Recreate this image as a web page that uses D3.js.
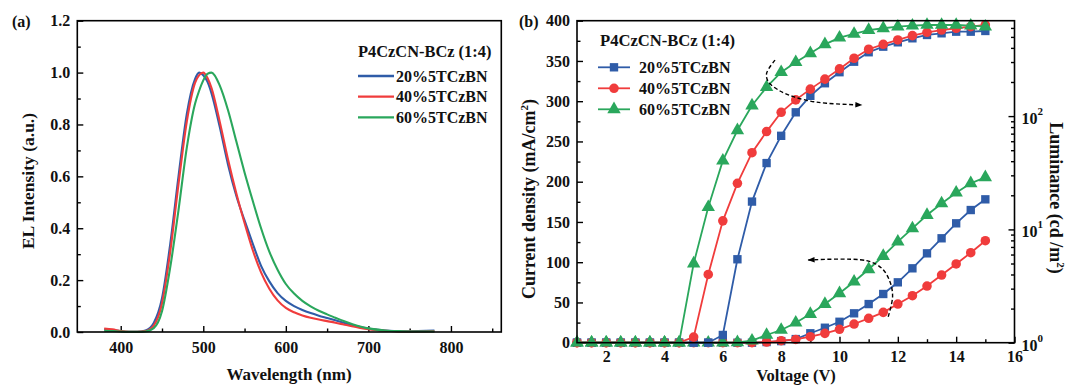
<!DOCTYPE html>
<html><head><meta charset="utf-8">
<script src="https://cdn.jsdelivr.net/npm/d3@7"></script>
<style>
body{margin:0;background:#fff}
svg{display:block}
text{font-family:"Liberation Serif","Times New Roman",serif;font-weight:bold;fill:#111}
</style>
</head><body>
<svg id="c" width="1072" height="385"></svg>
<script>
// ---------- Panel (a) data: EL spectra ----------
const wavelength = [380,390,400,410,420,430,440,450,460,470,480,490,495,500,505,510,520,530,540,550,560,570,580,590,600,610,620,630,640,650,660,670,680,690,700,720,740,760,780];
const el20 = [.010,.007,.003,.001,.001,.006,.035,.13,.34,.60,.84,.975,1.0,.99,.965,.92,.79,.645,.525,.43,.34,.255,.195,.15,.12,.10,.085,.073,.063,.054,.045,.036,.027,.019,.013,.006,.003,.004,.006];
const el40 = [.013,.010,.004,.001,.001,.004,.025,.11,.31,.57,.81,.96,.99,1.0,.98,.94,.81,.665,.535,.42,.315,.23,.167,.122,.093,.076,.064,.055,.048,.042,.036,.029,.022,.016,.011,.005,.002,.002,.003];
const el60 = [.005,.004,.002,.001,.001,.002,.015,.08,.25,.47,.71,.88,.93,.97,.995,1.0,.95,.855,.735,.615,.505,.40,.31,.24,.185,.148,.12,.099,.082,.068,.055,.042,.031,.021,.014,.006,.003,.002,.002];
const seriesNames = ["20%5TCzBN","40%5TCzBN","60%5TCzBN"];
const legendTitle = "P4CzCN-BCz (1:4)";
const xTicksA = [400,500,600,700,800];
const xMinorA = [450,550,650,750,850];
const yTicksA = [0,0.2,0.4,0.6,0.8,1.0,1.2];
const yMinorA = [0.1,0.3,0.5,0.7,0.9,1.1];

// ---------- Panel (b) data: J-V-L ----------
const voltage = [1,1.5,2,2.5,3,3.5,4,4.5,5,5.5,6,6.5,7,7.5,8,8.5,9,9.5,10,10.5,11,11.5,12,12.5,13,13.5,14,14.5,15];
const lum20 = [1,1,1,1,1,1,1,1,1,1,1.17,5.45,17.6,38.5,67,108,151,195,244,302,366,410,448,486,520,538,556,556,564];
const lum40 = [1,1,1,1,1,1,1,1,1.12,4.0,11.9,25.5,47.5,73,108,139,173,212,261,324,389,430,470,513,549,575,596,615,637];
const lum60 = [1,1,1,1,1,1,1,1,5.0,15.7,40.4,75,124,180,244,299,358,430,492,531,575,596,615,628,637,637,637,628,615];
const cur20 = [0,0,0,0,0,0,0,0,0,0,0,0,0,0.8,2,4.5,11.7,18.6,26,36.5,48,60.5,75,92.4,111,129.7,148.3,164.8,178.1];
const cur40 = [0,0,0,0,0,0,0,0,0,0,0,0,0,0.8,2.5,4,7.5,11.6,16.6,23.2,30.3,37.7,48,58.4,70.4,84,97.8,111.8,126.7];
const cur60 = [0,0,0,0,0,0,0,0,0,0,0,0.5,2.5,9.6,15.8,24.8,35.6,48,61.4,75.8,91.2,107.7,125.5,142,158.6,173,186.3,198,205.5];
const xTicksB = [2,4,6,8,10,12,14,16];
const xMinorB = [3,5,7,9,11,13,15];
const yTicksB = [0,50,100,150,200,250,300,350,400];
const yMinorB = [25,75,125,175,225,275,325,375];
const lumMajor = [1,10,100];
const lumMinor = [2,3,4,5,6,7,8,9,20,30,40,50,60,70,80,90,200,300,400,500,600];
// annotation arrows (voltage, current density)
const arrowLum = [[7.79,351],[7.50,334.6],[7.56,324.2],[7.96,312.7],[8.42,305.6],[8.99,300.2],[9.56,297.4],[10.76,295.3]];
const arrowCur = [[11.67,32.3],[11.82,57.1],[11.73,75.8],[11.45,92.4],[10.93,101.9],[8.93,102.7]];

const colors = ["#2f5ca8","#f03c3c","#2aa75c"];

const svg = d3.select("#c");
const defs = svg.append("defs");
defs.append("marker").attr("id","ah").attr("viewBox","0 0 10 10").attr("refX",9).attr("refY",5)
  .attr("markerWidth",10).attr("markerHeight",7).attr("markerUnits","userSpaceOnUse").attr("orient","auto")
  .append("path").attr("d","M0,1 L10,5 L0,9 Z").attr("fill","#000");

function styleAxis(g){ g.select(".domain").remove(); g.selectAll("line").attr("stroke","#000").attr("stroke-width",1.4); }
function styleLabels(g){ g.selectAll("text").attr("fill","#111").style("font-size","16px").style("font-family","'Liberation Serif'").style("font-weight","bold"); }

// ================= Panel (a) =================
const xA = d3.scaleLinear().domain([347.4,861]).range([77.3,501.3]);
const yA = d3.scaleLinear().domain([0,1.2]).range([332,20.7]);
const gA = svg.append("g");

gA.append("g").attr("transform",`translate(0,${yA(0)})`)
  .call(d3.axisBottom(xA).tickValues(xTicksA).tickSize(-6).tickPadding(10).tickFormat(d3.format("d")))
  .call(styleAxis).call(styleLabels);
gA.append("g").attr("transform",`translate(0,${yA(0)})`)
  .call(d3.axisBottom(xA).tickValues(xMinorA).tickSize(-3.5).tickFormat("")).call(styleAxis);
gA.append("g").attr("transform",`translate(${xA.range()[0]},0)`)
  .call(d3.axisLeft(yA).tickValues(yTicksA).tickSize(-6).tickPadding(7).tickFormat(d3.format(".1f")))
  .call(styleAxis).call(styleLabels);
gA.append("g").attr("transform",`translate(${xA.range()[0]},0)`)
  .call(d3.axisLeft(yA).tickValues(yMinorA).tickSize(-3.5).tickFormat("")).call(styleAxis);

const elSeries = [el20, el40, el60];
const lineA = d3.line().x((d,i)=>xA(wavelength[i])).y(d=>yA(d)).curve(d3.curveMonotoneX);
elSeries.forEach((s,k)=>{
  gA.append("path").datum(s).attr("d",lineA).attr("fill","none").attr("stroke",colors[k]).attr("stroke-width",2.1);
});
gA.append("rect").attr("x",77.3).attr("y",20.7).attr("width",501.3-77.3).attr("height",332-20.7)
  .attr("fill","none").attr("stroke","#000").attr("stroke-width",1.6);

// legend (a)
gA.append("text").attr("x",358).attr("y",57).style("font-size","16.4px").text(legendTitle);
seriesNames.forEach((n,k)=>{
  const y = 76 + k*20.7;
  gA.append("line").attr("x1",358).attr("x2",394).attr("y1",y).attr("y2",y).attr("stroke",colors[k]).attr("stroke-width",2.3);
  gA.append("text").attr("x",396).attr("y",y+5.5).style("font-size","16px").text(n);
});
gA.append("text").attr("x",12).attr("y",27).style("font-size","16px").text("(a)");
gA.append("text").attr("transform","translate(34,181) rotate(-90)").attr("text-anchor","middle").style("font-size","17.5px").text("EL Intensity (a.u.)");
gA.append("text").attr("x",289).attr("y",380).attr("text-anchor","middle").style("font-size","17px").text("Wavelength (nm)");

// ================= Panel (b) =================
const xB = d3.scaleLinear().domain([1,16]).range([577,1014.5]);
const yB = d3.scaleLinear().domain([0,400]).range([342.7,20.7]);
const yL = d3.scaleLog().domain([1,695]).range([342.7,20.7]);
const gB = svg.append("g");

gB.append("g").attr("transform",`translate(0,${yB(0)})`)
  .call(d3.axisBottom(xB).tickValues(xTicksB).tickSize(-6).tickPadding(8).tickFormat(d3.format("d")))
  .call(styleAxis).call(styleLabels);
gB.append("g").attr("transform",`translate(0,${yB(0)})`)
  .call(d3.axisBottom(xB).tickValues(xMinorB).tickSize(-3.5).tickFormat("")).call(styleAxis);
gB.append("g").attr("transform",`translate(${xB.range()[0]},0)`)
  .call(d3.axisLeft(yB).tickValues(yTicksB).tickSize(-6).tickPadding(7).tickFormat(d3.format("d")))
  .call(styleAxis).call(styleLabels);
gB.append("g").attr("transform",`translate(${xB.range()[0]},0)`)
  .call(d3.axisLeft(yB).tickValues(yMinorB).tickSize(-3.5).tickFormat("")).call(styleAxis);
gB.append("g").attr("transform",`translate(${xB.range()[1]},0)`)
  .call(d3.axisRight(yL).tickValues(lumMajor).tickSize(-6).tickFormat("")).call(styleAxis);
gB.append("g").attr("transform",`translate(${xB.range()[1]},0)`)
  .call(d3.axisRight(yL).tickValues(lumMinor).tickSize(-3.5).tickFormat("")).call(styleAxis);
lumMajor.forEach(v=>{
  const t = gB.append("text").attr("x",xB.range()[1]+7).attr("y",yL(v)+8).style("font-size","16px");
  t.append("tspan").text("10");
  t.append("tspan").attr("dy",-9).style("font-size","11px").text(String(Math.round(Math.log10(v))));
});

// series
const lumSeries = [lum20, lum40, lum60];
const curSeries = [cur20, cur40, cur60];
const lineL = d3.line().x((d,i)=>xB(voltage[i])).y(d=>yL(d));
const lineJ = d3.line().x((d,i)=>xB(voltage[i])).y(d=>yB(d));
const sym = [d3.symbolSquare, d3.symbolCircle, d3.symbolTriangle];
const symSize = [70, 72, 78];
function drawSeries(data, line, yS, k){
  gB.append("path").datum(data).attr("d",line).attr("fill","none").attr("stroke",colors[k]).attr("stroke-width",1.8);
  gB.append("g").selectAll("path").data(data).join("path")
    .attr("transform",(d,i)=>`translate(${xB(voltage[i])},${yS(d)})`)
    .attr("d",d3.symbol().type(sym[k]).size(symSize[k])).attr("fill",colors[k]);
}
[0,1,2].forEach(k=>drawSeries(curSeries[k], lineJ, yB, k));
[0,1,2].forEach(k=>drawSeries(lumSeries[k], lineL, yL, k));

gB.append("rect").attr("x",577).attr("y",20.7).attr("width",1014.5-577).attr("height",342.7-20.7)
  .attr("fill","none").attr("stroke","#000").attr("stroke-width",1.6);

// arrows
const arrowLine = d3.line().x(d=>xB(d[0])).y(d=>yB(d[1])).curve(d3.curveCatmullRom);
[arrowLum, arrowCur].forEach(a=>{
  gB.append("path").datum(a).attr("d",arrowLine).attr("fill","none").attr("stroke","#000")
    .attr("stroke-width",1.4).attr("stroke-dasharray","4,2.5").attr("marker-end","url(#ah)");
});

// legend (b)
gB.append("text").attr("x",600).attr("y",46).style("font-size","16.6px").text(legendTitle);
seriesNames.forEach((n,k)=>{
  const y = 67.3 + k*21;
  gB.append("line").attr("x1",598).attr("x2",630).attr("y1",y).attr("y2",y).attr("stroke",colors[k]).attr("stroke-width",1.8);
  gB.append("path").attr("transform",`translate(614,${y})`).attr("d",d3.symbol().type(sym[k]).size(symSize[k])).attr("fill",colors[k]);
  gB.append("text").attr("x",639).attr("y",y+5.5).style("font-size","16px").text(n);
});
gB.append("text").attr("x",519).attr("y",27).style("font-size","16px").text("(b)");
const cd = gB.append("text").attr("transform","translate(535,199) rotate(-90)").attr("text-anchor","middle").style("font-size","18px");
cd.append("tspan").text("Current density (mA/cm");
cd.append("tspan").attr("dy",-7).style("font-size","11px").text("2");
cd.append("tspan").attr("dy",7).text(")");
const lu = gB.append("text").attr("transform","translate(1050,198) rotate(90)").attr("text-anchor","middle").style("font-size","18px");
lu.append("tspan").text("Luminance (cd /m");
lu.append("tspan").attr("dy",-7).style("font-size","11px").text("2");
lu.append("tspan").attr("dy",7).text(")");
gB.append("text").attr("x",796).attr("y",381).attr("text-anchor","middle").style("font-size","16.5px").text("Voltage (V)");
</script>
</body></html>
